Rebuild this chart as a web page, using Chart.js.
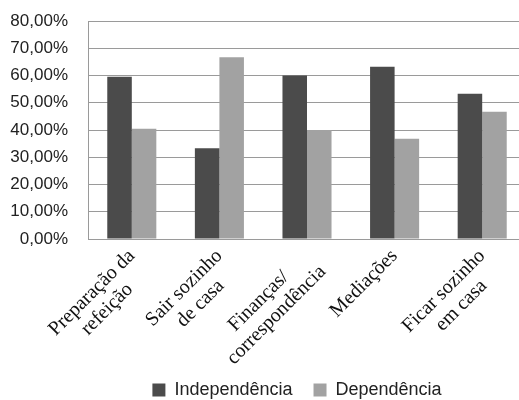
<!DOCTYPE html>
<html>
<head>
<meta charset="utf-8">
<script src="https://cdn.jsdelivr.net/npm/chart.js@4"></script>
<style>
  html, body { margin: 0; padding: 0; background: #fff; overflow: hidden; }
  #wrap { width: 526px; height: 400px; }
</style>
</head>
<body>
<div id="wrap"><canvas id="chart"></canvas></div>
<script>
// trailing spaces keep the shorter line centred under the longer one
var categories = [
  ["Preparação da", "refeição     "],
  ["Sair sozinho", "de casa    "],
  ["Finanças/      ", "correspondência"],
  "Mediações",
  ["Ficar sozinho", "em casa    "]
];
var independencia = [59.5, 33.3, 60.0, 63.2, 53.3];
var dependencia = [40.5, 66.7, 40.0, 36.8, 46.7];
var seriesNames = ["Independência", "Dependência"];

// legend a bit to the right, and let the x labels run under it
var layoutTweak = {
  id: 'layoutTweak',
  afterLayout: function(chart) {
    chart.legend.left += 34;
    chart.legend.right += 34;
    chart.scales.x.bottom = chart.height;
  }
};

var ctx = document.getElementById("chart").getContext('2d');

var config = {
  type: 'bar',
  data: {
    labels: categories,
    datasets: [{
      label: seriesNames[0],
      backgroundColor: '#4b4b4b',
      data: independencia
    }, {
      label: seriesNames[1],
      backgroundColor: '#a2a2a2',
      data: dependencia
    }]
  },
  options: {
    responsive: true,
    maintainAspectRatio: false,
    animation: false,
    categoryPercentage: 0.56,
    barPercentage: 1,
    layout: { padding: { top: 21, bottom: -9, left: 0, right: 0 } },
    plugins: {
      tooltip: { enabled: false },
      legend: {
        position: 'bottom',
        labels: {
          boxWidth: 13,
          boxHeight: 13,
          padding: 21,
          color: '#222',
          font: { family: 'Liberation Sans', size: 18, lineHeight: 1 }
        }
      }
    },
    scales: {
      x: {
        grid: { display: false, drawTicks: false },
        border: { display: true, color: '#9a9a9a' },
        ticks: {
          autoSkip: false,
          minRotation: 45,
          maxRotation: 45,
          padding: 6,
          color: '#111',
          font: { family: 'Liberation Serif', size: 20, lineHeight: 1.12 }
        },
        afterFit: function(scale) { scale.height = 121; }
      },
      y: {
        min: 0,
        max: 80,
        grid: { color: '#9a9a9a', drawTicks: false },
        border: { display: true, color: '#9a9a9a' },
        ticks: {
          stepSize: 10,
          padding: 20,
          color: '#222',
          font: { family: 'Liberation Sans', size: 17 },
          callback: function(v) { return v.toFixed(2).replace('.', ',') + '%'; }
        },
        afterFit: function(scale) {
          scale.width = 88;
          scale.paddingTop = 0;
          scale.paddingBottom = 0;
        }
      }
    }
  },
  plugins: [layoutTweak]
};

var myBarChart = new Chart(ctx, config);
</script>
</body>
</html>
